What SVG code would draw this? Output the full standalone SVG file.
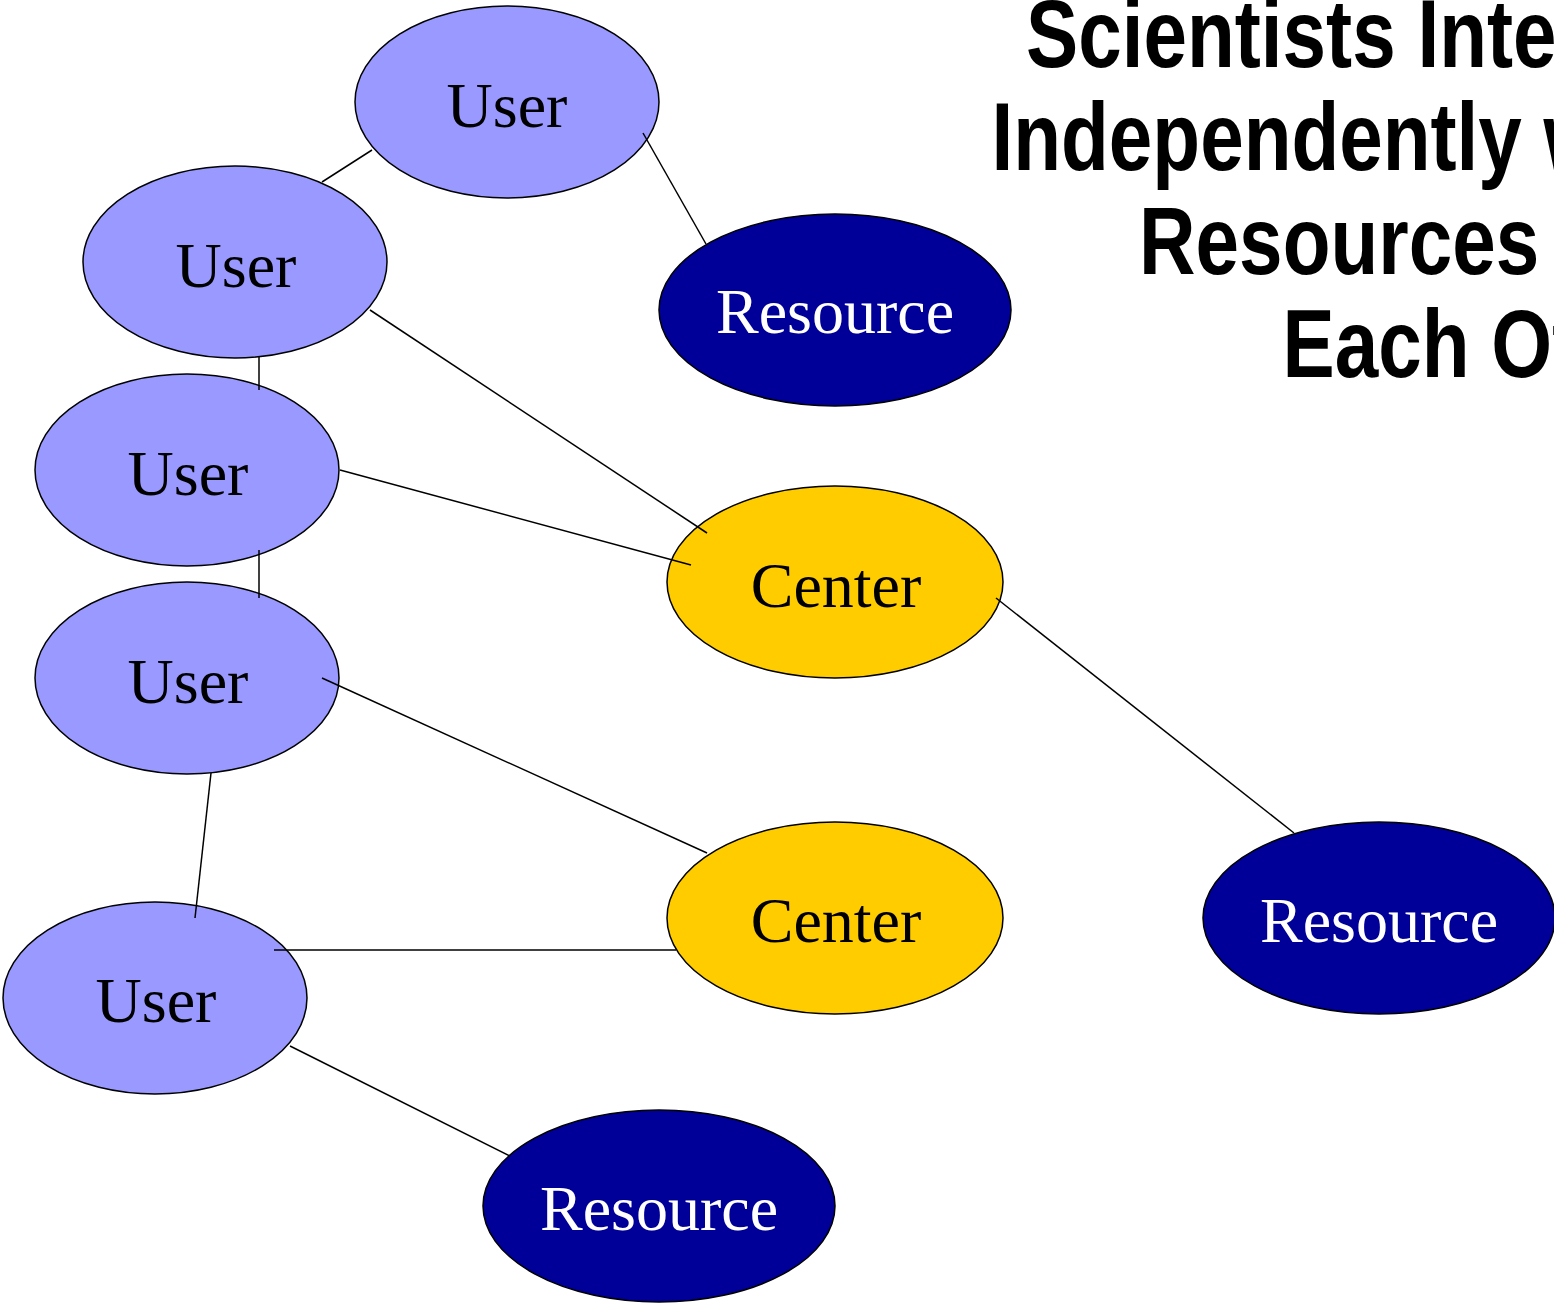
<svg xmlns="http://www.w3.org/2000/svg" width="1554" height="1307" viewBox="0 0 1554 1307">
<style>
.user{fill:#9999ff;stroke:#000;stroke-width:1.5}
.res{fill:#000099;stroke:#000;stroke-width:1.5}
.ctr{fill:#ffcc00;stroke:#000;stroke-width:1.5}
.lbl{font-family:"Liberation Serif","Times New Roman",serif;font-size:64px;text-anchor:middle;fill:#000}
.lblw{font-family:"Liberation Serif","Times New Roman",serif;font-size:64px;text-anchor:middle;fill:#fff}
.title{font-family:"Liberation Sans Narrow","Liberation Sans",Arial,sans-serif;font-weight:bold;font-size:96px;text-anchor:end;fill:#000}
.conn line{stroke:#000;stroke-width:1.5}
</style>
<rect width="1554" height="1307" fill="#fff"/>
<g id="title" transform="translate(1700,0) scale(0.815,1)">
<text class="title" x="0" y="67" style="font-family:'Liberation Sans',Arial,sans-serif">Scientists Interact</text>
<text class="title" x="0" y="170" style="font-family:'Liberation Sans',Arial,sans-serif">Independently with</text>
<text class="title" x="0" y="274" style="font-family:'Liberation Sans',Arial,sans-serif">Resources and</text>
<text class="title" x="0" y="377" style="font-family:'Liberation Sans',Arial,sans-serif">Each Other</text>
</g>
<g id="user1"><ellipse class="user" cx="507" cy="102" rx="152" ry="96"/><text class="lbl" x="507" y="127">User</text></g>
<g id="user2"><ellipse class="user" cx="235" cy="262" rx="152" ry="96"/><text class="lbl" x="236" y="287">User</text></g>
<g id="user3"><ellipse class="user" cx="187" cy="470" rx="152" ry="96"/><text class="lbl" x="188" y="495">User</text></g>
<g id="user4"><ellipse class="user" cx="187" cy="678" rx="152" ry="96"/><text class="lbl" x="188" y="703">User</text></g>
<g id="user5"><ellipse class="user" cx="155" cy="998" rx="152" ry="96"/><text class="lbl" x="156" y="1022">User</text></g>
<g id="resource1"><ellipse class="res" cx="835" cy="310" rx="176" ry="96"/><text class="lblw" x="835" y="333">Resource</text></g>
<g id="center1"><ellipse class="ctr" cx="835" cy="582" rx="168" ry="96"/><text class="lbl" x="836" y="607">Center</text></g>
<g id="center2"><ellipse class="ctr" cx="835" cy="918" rx="168" ry="96"/><text class="lbl" x="836" y="942">Center</text></g>
<g id="resource2"><ellipse class="res" cx="1379" cy="918" rx="176" ry="96"/><text class="lblw" x="1379" y="942">Resource</text></g>
<g id="resource3"><ellipse class="res" cx="659" cy="1206" rx="176" ry="96"/><text class="lblw" x="659" y="1230">Resource</text></g>
<g id="connectors" class="conn">
<line x1="372" y1="150" x2="322" y2="182"/>
<line x1="643" y1="133" x2="706" y2="244"/>
<line x1="370" y1="310" x2="707" y2="533"/>
<line x1="259" y1="357" x2="259" y2="390"/>
<line x1="340" y1="470" x2="691" y2="565"/>
<line x1="259" y1="550" x2="259" y2="598"/>
<line x1="322" y1="678" x2="707" y2="853"/>
<line x1="211" y1="773" x2="195" y2="918"/>
<line x1="274" y1="950" x2="676" y2="950"/>
<line x1="996" y1="598" x2="1294" y2="833"/>
<line x1="290" y1="1046" x2="510" y2="1156"/>
</g>
</svg>
